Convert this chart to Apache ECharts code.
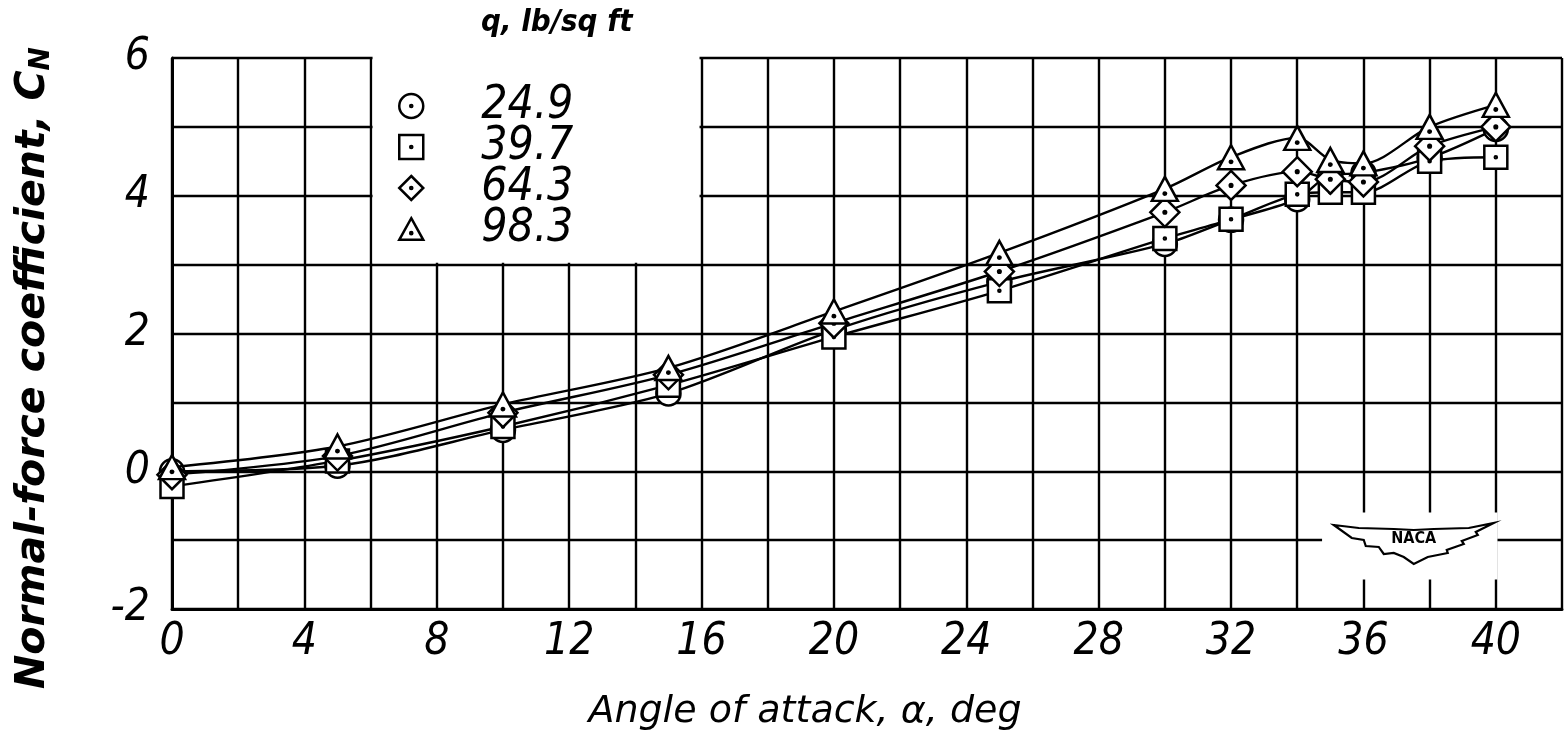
<!DOCTYPE html>
<html>
<head>
<meta charset="utf-8">
<script src="https://cdn.jsdelivr.net/npm/echarts@6/dist/echarts.min.js"></script>
<style>
html,body{margin:0;padding:0;background:#fff;}
#c{width:1565px;height:740px;}
</style>
</head>
<body>
<div id="c"></div>
<script>
// ---- data ----
const angles = [0, 5, 10, 15, 20, 25, 30, 32, 34, 35, 36, 38, 40];
const seriesNames = ['24.9', '39.7', '64.3', '98.3'];
const cnQ249 = [0.00, 0.08, 0.60, 1.13, 2.05, 2.75, 3.30, 3.65, 3.95, 4.30, 4.33, 4.55, 4.97];
const cnQ397 = [-0.22, 0.15, 0.65, 1.25, 1.95, 2.62, 3.38, 3.66, 4.02, 4.05, 4.05, 4.50, 4.56];
const cnQ643 = [-0.05, 0.22, 0.85, 1.40, 2.15, 2.90, 3.76, 4.15, 4.35, 4.24, 4.20, 4.72, 5.00];
const cnQ983 = [0.06, 0.36, 0.97, 1.50, 2.32, 3.17, 4.10, 4.56, 4.84, 4.52, 4.47, 5.00, 5.32];
const xTickLabels = [0, 4, 8, 12, 16, 20, 24, 28, 32, 36, 40];
const yTickLabels = [-2, 0, 2, 4, 6];

// ---- symbols (outline + centre dot) ----
const dot = ' M0,-0.9 A0.9,0.9 0 1,1 0,0.9 A0.9,0.9 0 1,1 0,-0.9 Z';
const symCircle = 'path://M0,-10 A10,10 0 1,1 0,10 A10,10 0 1,1 0,-10 Z' + dot;
const symSquare = 'path://M-10,-10 L10,-10 L10,10 L-10,10 Z' + dot;
const symDiamond = 'path://M0,-10 L10,0 L0,10 L-10,0 Z' + dot;
const symTriangle = 'path://M0,-11 L10,7 L-10,7 Z M0,0.6 A0.9,0.9 0 1,1 0,2.4 A0.9,0.9 0 1,1 0,0.6 Z';

const fontCond = '"DejaVu Sans Condensed", "DejaVu Sans", sans-serif';
const fontWide = '"DejaVu Sans", sans-serif';

function pairs(ys) { return angles.map((a, i) => [a, ys[i]]); }

const symbols = [symCircle, symSquare, symDiamond, symTriangle];
const sizes = [[24, 24], [23, 23], [29, 29], [26, 24]];
const values = [cnQ249, cnQ397, cnQ643, cnQ983];

const series = seriesNames.map((n, i) => ({
  name: n,
  type: 'line',
  data: pairs(values[i]),
  smooth: 0.3,
  symbol: symbols[i],
  symbolSize: sizes[i],
  showAllSymbol: true,
  lineStyle: { color: '#000', width: 2.4 },
  itemStyle: { color: '#fff', borderColor: '#000', borderWidth: 2.5 },
  z: 3 + i,
  animation: false
}));

const chart = echarts.init(document.getElementById('c'), null, { renderer: 'canvas' });

const option = {
  backgroundColor: '#fff',
  animation: false,
  grid: { left: 172, right: 0, top: 58, bottom: 131, containLabel: false },
  title: {
    text: 'q, lb/sq ft',
    left: 476, top: 2,
    textStyle: { fontFamily: fontCond, fontStyle: 'italic', fontWeight: 'bold', fontSize: 31, color: '#000' }
  },
  legend: {
    orient: 'vertical',
    left: 393, top: 78,
    itemWidth: 24, itemHeight: 24, itemGap: -5,
    selectedMode: false,
    data: seriesNames.map((n, i) => ({ name: n, icon: symbols[i] })),
    itemStyle: { color: '#fff', borderColor: '#000', borderWidth: 2.5 },
    textStyle: { fontFamily: fontCond, fontStyle: 'italic', fontSize: 46, color: '#000', padding: [0, 0, 0, 53] }
  },
  xAxis: {
    type: 'value', min: 0, max: 42, interval: 2,
    axisLine: { show: true, onZero: false, lineStyle: { color: '#000', width: 3 } },
    axisTick: { show: false },
    splitLine: { show: true, lineStyle: { color: '#000', width: 2.4 } },
    axisLabel: {
      margin: 12, color: '#000', fontFamily: fontCond, fontStyle: 'italic', fontSize: 44,
      formatter: v => xTickLabels.indexOf(v) >= 0 ? String(v) : ''
    }
  },
  yAxis: {
    type: 'value', min: -2, max: 6, interval: 1,
    axisLine: { show: true, onZero: false, lineStyle: { color: '#000', width: 3 } },
    axisTick: { show: false },
    splitLine: { show: true, lineStyle: { color: '#000', width: 2.4 } },
    axisLabel: {
      margin: 22, color: '#000', fontFamily: fontCond, fontStyle: 'italic', fontSize: 44,
      formatter: v => yTickLabels.indexOf(v) >= 0 ? String(v) : ''
    }
  },
  series: series
};
chart.setOption(option);

// ---- white blank areas (legend box and NACA emblem) computed from axis scales ----
const L1 = chart.convertToPixel({ gridIndex: 0 }, [6, 6]);
const L2 = chart.convertToPixel({ gridIndex: 0 }, [16, 3]);
const N1 = chart.convertToPixel({ gridIndex: 0 }, [34.75, -0.6]);
const N2 = chart.convertToPixel({ gridIndex: 0 }, [40.05, -1.57]);
const cx = (N1[0] + N2[0]) / 2 + 4, cy = (N1[1] + N2[1]) / 2 - 6;
const wing = [
  [-80, -15], [-55, -12], [-20, -11], [0, -10], [20, -11], [55, -12], [80, -17],
  [62, -8], [64, -5], [48, 1], [50, 4], [33, 10], [34, 13], [14, 17], [0, 24],
  [-10, 17], [-20, 13], [-30, 14], [-35, 7], [-48, 6], [-50, 0], [-62, -2], [-80, -15]
].map(p => [cx + p[0], cy + p[1]]);

chart.setOption({
  graphic: [
    { type: 'rect', z: 1, silent: true,
      shape: { x: L1[0] + 2, y: L1[1] - 3, width: L2[0] - L1[0] - 4, height: L2[1] - L1[1] + 1 },
      style: { fill: '#fff' } },
    { type: 'rect', z: 1, silent: true,
      shape: { x: N1[0], y: N1[1], width: N2[0] - N1[0], height: N2[1] - N1[1] },
      style: { fill: '#fff' } },
    { type: 'polygon', z: 10, silent: true,
      shape: { points: wing },
      style: { fill: '#fff', stroke: '#000', lineWidth: 2.2 } },
    { type: 'text', z: 11, silent: true, x: cx, y: cy - 1,
      style: { text: 'NACA', fill: '#000', font: 'bold 16px "DejaVu Sans Condensed", sans-serif', textAlign: 'center', textVerticalAlign: 'middle' } },
    // axis titles
    { type: 'text', z: 5, silent: true, x: 33, y: 368, rotation: Math.PI / 2,
      style: {
        text: '{a|Normal-force coefficient, C}{s|N}',
        textAlign: 'center', textVerticalAlign: 'middle',
        rich: {
          a: { fontFamily: fontWide, fontStyle: 'italic', fontWeight: 'bold', fontSize: 41, fill: '#000' },
          s: { fontFamily: fontWide, fontStyle: 'italic', fontWeight: 'bold', fontSize: 28, fill: '#000', padding: [18, 0, 0, 0] }
        }
      } },
    { type: 'text', z: 5, silent: true, x: 805, y: 712,
      style: {
        text: 'Angle of attack, \u03b1, deg',
        font: 'italic 38px "DejaVu Sans", sans-serif', fill: '#000',
        textAlign: 'center', textVerticalAlign: 'middle'
      } }
  ]
});
</script>
</body>
</html>
